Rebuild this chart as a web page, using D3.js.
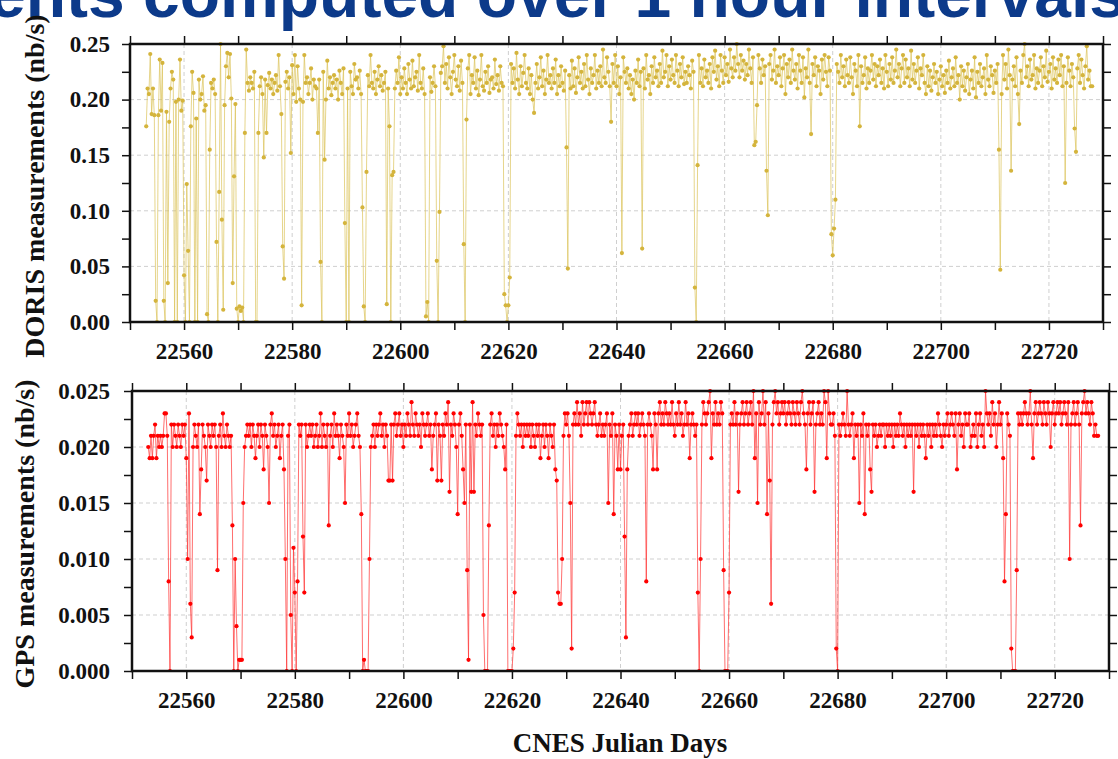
<!DOCTYPE html>
<html>
<head>
<meta charset="utf-8">
<script src="https://cdn.jsdelivr.net/npm/d3@7"></script>
<style>
  body { margin: 0; background: #fff; }
  svg { display: block; }
  .tick text { font-family: "Liberation Serif", "Times New Roman", serif; font-weight: bold; font-size: 23px; fill: #111; }
  .tick line { stroke: #111; stroke-width: 1.5; }
  .label { font-family: "Liberation Serif", "Times New Roman", serif; font-weight: bold; fill: #111; }
</style>
</head>
<body>
<svg id="chart"></svg>
<script>
// sampling of both series: one value every 6 hours, starting at day 22553
var firstDay = 22553
var stepDays = 0.25

var xMajorTicks = [22560, 22580, 22600, 22620, 22640, 22660, 22680, 22700, 22720]
var xMinorTicks = [22550, 22570, 22590, 22610, 22630, 22650, 22670, 22690, 22710, 22730]

var dorisMajorTicks = [0, 0.05, 0.10, 0.15, 0.20, 0.25]
var dorisMinorTicks = [0.025, 0.075, 0.125, 0.175, 0.225]
var gpsMajorTicks = [0, 0.005, 0.010, 0.015, 0.020, 0.025]
var gpsMinorTicks = [0.0025, 0.0075, 0.0125, 0.0175, 0.0225]

// DORIS measurements, in 1e-3 nb/s (5 days per row)
var dorisMilli = [
176,210,205,241, 187,210,186,19, 0,186,236,190, 233,19,0,189, 35,180,210,225,
218,0,198,0, 200,236,190,199, 42,0,124,64, 0,176,225,206, 0,183,0,218,
200,205,221,190, 195,7,0,155, 215,210,218,205, 72,0,117,250, 92,11,195,230,
242,220,241,201, 35,131,196,12, 0,14,10,13, 0,170,245,215, 208,220,215,210,
225,0,0,170, 212,220,205,148, 218,170,213,224, 210,218,205,215, 222,208,240,212,
187,68,39,216, 225,210,220,152, 231,205,240,198, 230,210,200,15, 198,240,215,220,
205,215,228,200, 218,212,210,170, 218,54,0,225, 146,200,235,210, 220,204,215,222,
210,218,200,226, 215,205,228,89, 0,210,0,225, 212,205,232,218, 220,210,226,205,
103,14,0,135, 222,212,240,215, 210,225,205,218, 230,212,222,208, 215,225,16,210,
176,0,132,135, 210,226,215,238, 205,220,210,228, 215,205,232,218, 210,235,212,220,
225,208,240,215, 210,228,205,5, 18,0,220,207, 215,230,212,55, 0,99,224,230,
248,215,232,210, 238,220,205,225, 240,218,212,230, 208,235,215,70, 0,182,228,240,
205,222,215,238, 210,226,204,218, 240,212,208,225, 215,230,206,218, 220,210,236,214,
222,208,230,215, 212,25,15,0, 15,40,232,215, 228,210,242,218, 205,230,212,224,
240,215,210,228, 205,222,200,188, 215,232,210,220, 238,212,226,205, 218,240,215,222,
210,228,215,236, 205,222,212,230, 215,208,226,157, 48,222,210,235, 212,228,206,220,
238,215,225,210, 232,212,240,218, 205,228,215,222, 240,210,226,215, 230,212,245,220,
215,238,225,212, 180,232,215,240, 212,230,205,220, 62,238,225,215, 228,210,222,205,
218,200,226,215, 236,212,225,66, 228,210,240,218, 222,205,230,215, 238,220,226,212,
232,215,244,220, 225,240,212,230, 218,236,222,215, 240,226,212,232, 220,238,214,225,
215,230,222,210, 235,225,31,0, 141,240,215,228, 212,236,220,226, 215,232,210,238,
225,244,218,230, 212,240,226,215, 238,222,232,216, 245,228,220,238, 226,250,232,220,
240,226,235,218, 232,222,245,228, 215,238,159,162, 195,240,228,215, 236,222,230,136,
96,232,240,218, 226,245,215,230, 222,238,212,228, 240,205,232,220, 236,215,245,226,
218,232,210,240, 226,215,238,202, 228,220,245,215, 169,232,222,238, 212,230,226,205,
236,218,240,225, 212,238,226,79, 60,84,110,232, 225,215,240,220, 230,212,236,222,
215,238,220,205, 232,226,212,240, 176,230,215,222, 238,210,228,215, 226,240,218,232,
212,230,222,236, 215,228,210,240, 225,212,232,218, 238,215,226,245, 220,232,212,228,
240,215,236,220, 228,212,244,218, 232,215,226,238, 210,228,222,240, 215,205,230,212,
226,208,220,232, 215,225,205,218, 230,212,222,206, 226,215,235,210, 220,228,212,238,
215,222,200,230, 212,226,208,220, 232,205,218,226, 210,238,202,225, 215,232,212,220,
228,205,240,218, 212,230,222,206, 226,215,232,155, 47,205,240,218, 232,210,245,222,
136,218,230,212, 238,205,178,226, 215,240,250,220, 230,212,236,218, 222,240,210,228,
215,226,238,212, 230,220,244,216, 225,232,210,238, 218,228,215,236, 222,240,212,230,
125,215,238,226, 212,232,220,174, 153,228,240,215, 236,222,210,230, 248,218,226,212,
212
]

// GPS measurements, in 1e-3 nb/s (5 days per row)
var gpsMilli = [
20,19,21,19, 21,22,19,21, 20,21,20,21, 23,23,21,8, 0,22,20,22,
21,20,22,21, 20,22,21,22, 19,10,23,6, 3,20,22,21, 20,22,14,18,
22,21,20,17, 22,21,20,22, 21,22,20,9, 21,22,20,23, 21,20,22,21,
20,21,13,0, 10,4,0,1, 1,1,15,20, 21,22,21,22, 20,22,21,19,
21,22,20,22, 21,18,22,21, 20,15,22,23, 21,22,20,21, 22,19,21,22,
18,10,0,21, 22,5,0,11, 7,0,8,22, 21,22,12,7, 22,20,21,22,
21,22,20,21, 22,20,21,23, 20,22,21,20, 22,13,21,22, 20,23,21,22,
21,19,22,21, 20,15,22,21, 23,21,22,20, 21,22,23,21, 20,14,0,1,
0,0,0,10, 20,21,22,20, 22,21,22,23, 21,22,20,22, 21,17,17,22,
17,22,23,21, 22,23,21,22, 20,22,21,23, 22,21,24,22, 21,23,22,21,
22,20,23,22, 21,22,23,21, 22,18,21,22, 23,17,22,21, 17,22,21,23,
22,24,16,22, 21,23,22,20, 14,22,23,21, 18,15,22,9, 1,22,16,24,
16,22,21,23, 22,21,22,5, 0,0,0,13, 22,23,21,22, 20,22,21,23,
22,21,20,18, 22,0,0,0, 0,2,7,21, 23,22,21,22, 20,22,21,22,
21,22,20,22, 21,20,22,21, 22,19,21,22, 20,22,21,19, 22,21,20,22,
18,17,7,6, 6,10,21,23, 22,23,21,15, 2,22,23,22, 24,22,23,21,
24,22,23,24, 22,24,23,22, 23,24,22,21, 22,23,21,22, 21,22,23,15,
22,21,23,14, 22,21,18,22, 18,21,22,12, 3,18,21,22, 23,21,22,23,
22,23,21,22, 23,22,21,8, 22,23,22,21, 18,23,22,18, 23,24,22,23,
22,24,23,22, 23,22,24,22, 21,23,22,24, 22,23,21,22, 24,22,23,19,
22,23,22,21, 22,7,0,10, 22,24,23,22, 23,24,25,19, 23,22,24,22,
23,22,24,23, 9,0,0,0, 7,22,23,22, 24,22,23,16, 22,23,24,22,
23,24,22,23, 24,22,25,19, 23,15,24,22, 23,25,22,24, 14,23,17,6,
22,24,25,23, 24,22,23,24, 23,24,22,23, 24,23,22,24, 23,22,24,23,
22,24,25,23, 22,18,23,24, 22,23,24,16, 22,23,24,22, 23,22,25,24,
19,25,23,22, 22,23,21,2, 0,22,21,22, 23,22,21,25, 22,21,22,23,
19,22,21,22, 15,22,21,23, 14,22,21,22, 18,16,22,21, 22,20,21,22,
21,22,22,20, 22,21,22,21, 22,20,22,21, 22,21,23,22, 21,22,20,22,
21,22,21,22, 16,22,21,22, 20,22,21,22, 21,19,22,21, 22,20,22,21,
22,21,23,22, 21,20,22,21, 22,23,21,22, 23,22,21,23, 18,22,23,21,
22,20,23,22, 22,23,20,21, 22,21,23,20, 22,23,21,22, 20,25,23,22,
23,21,24,22, 23,20,22,24, 22,23,19,8, 14,23,22,21, 2,0,0,0,
9,23,22,23, 22,23,24,23, 22,23,25,22, 19,23,24,22, 23,24,23,22,
24,23,22,24, 23,20,23,24, 22,23,24,23, 24,22,23,24, 23,22,24,10,
22,23,24,22, 23,24,22,13, 23,24,25,23, 24,23,22,24, 23,21,22,21,
21
]

var screen = {width: 1118, height: 759}
var xDomain = [22550, 22730]

var svg = d3.select("#chart")
    .attr("width", screen.width)
    .attr("height", screen.height)

var makeTranslateString = function(x, y)
{
    return "translate(" + x + "," + y + ")"
}

// cropped slide title above the plots
svg.append("text")
    .text("Measurements computed over 1 hour intervals")
    .attr("x", 1126)
    .attr("y", 17)
    .attr("text-anchor", "end")
    .style("font-family", "'Liberation Sans', Arial, sans-serif")
    .style("font-weight", "bold")
    .style("font-size", "66px")
    .style("fill", "#0c3a8a")

var drawPanel = function(p, id)
{
    var xScale = d3.scaleLinear().domain(xDomain).range([p.left, p.right])
    var yScale = d3.scaleLinear().domain([0, p.yMax]).range([p.bottom, p.top])

    var grid = svg.append("g").attr("class", "grid")
    grid.selectAll("line.gx")
        .data(xMajorTicks)
        .enter()
        .append("line")
        .attr("x1", function(d) { return xScale(d) })
        .attr("x2", function(d) { return xScale(d) })
        .attr("y1", p.top)
        .attr("y2", p.bottom)
    grid.selectAll("line.gy")
        .data(p.majors.slice(1, -1))
        .enter()
        .append("line")
        .attr("x1", p.left)
        .attr("x2", p.right)
        .attr("y1", function(d) { return yScale(d) })
        .attr("y2", function(d) { return yScale(d) })
    grid.selectAll("line")
        .attr("stroke", "#cfcfcf")
        .attr("stroke-width", 1)
        .attr("stroke-dasharray", "4,3")

    svg.append("clipPath")
        .attr("id", "clip" + id)
        .append("rect")
        .attr("x", p.left)
        .attr("y", p.top - 3)
        .attr("width", p.right - p.left)
        .attr("height", p.bottom - p.top + 3)

    var points = p.values.map(function(v, i)
    {
        return {day: firstDay + i * stepDays, value: v / 1000}
    })

    var line = d3.line()
        .x(function(d) { return xScale(d.day) })
        .y(function(d) { return yScale(d.value) })

    var plot = svg.append("g").attr("clip-path", "url(#clip" + id + ")")
    plot.append("path")
        .datum(points)
        .attr("d", line)
        .attr("fill", "none")
        .attr("stroke", p.lineColor)
        .attr("stroke-width", 1)
        .attr("stroke-opacity", 0.7)
    plot.selectAll("circle")
        .data(points)
        .enter()
        .append("circle")
        .attr("cx", function(d) { return xScale(d.day) })
        .attr("cy", function(d) { return yScale(d.value) })
        .attr("r", 2.1)
        .attr("fill", p.dotColor)

    var allX = xMajorTicks.concat(xMinorTicks).sort(d3.ascending)
    var allY = p.majors.concat(p.minors).sort(d3.ascending)
    var yFmt = d3.format(p.fmt)

    svg.append("g")
        .attr("transform", makeTranslateString(0, p.bottom))
        .call(d3.axisBottom(xScale).tickValues(allX).tickSize(8).tickPadding(13)
            .tickFormat(function(d) { return xMajorTicks.indexOf(d) >= 0 ? d : "" }))
    svg.append("g")
        .attr("transform", makeTranslateString(0, p.top))
        .call(d3.axisTop(xScale).tickValues(allX).tickSize(8).tickFormat(""))
    svg.append("g")
        .attr("transform", makeTranslateString(p.left, 0))
        .call(d3.axisLeft(yScale).tickValues(allY).tickSize(8).tickPadding(p.left - 118)
            .tickFormat(function(d) { return p.majors.indexOf(d) >= 0 ? yFmt(d) : "" }))
    svg.append("g")
        .attr("transform", makeTranslateString(p.right, 0))
        .call(d3.axisRight(yScale).tickValues(allY).tickSize(8).tickFormat(""))
    svg.selectAll(".domain").remove()

    svg.append("rect")
        .attr("x", p.left)
        .attr("y", p.top)
        .attr("width", p.right - p.left)
        .attr("height", p.bottom - p.top)
        .attr("fill", "none")
        .attr("stroke", "#111")
        .attr("stroke-width", 2.5)

    svg.append("text")
        .attr("class", "label")
        .attr("transform", makeTranslateString(p.titleX, (p.top + p.bottom) / 2 + 3) + " rotate(-90)")
        .attr("text-anchor", "middle")
        .style("font-size", "28px")
        .text(p.title)
}

drawPanel({
    values: dorisMilli, left: 130, right: 1103, top: 44, bottom: 322,
    yMax: 0.25, majors: dorisMajorTicks, minors: dorisMinorTicks, fmt: ".2f",
    dotColor: "#d4b43c", lineColor: "#dcc35a",
    title: "DORIS measurements (nb/s)", titleX: 44
}, 1)

drawPanel({
    values: gpsMilli, left: 132, right: 1109, top: 391, bottom: 671,
    yMax: 0.025, majors: gpsMajorTicks, minors: gpsMinorTicks, fmt: ".3f",
    dotColor: "#ff0000", lineColor: "#ff3030",
    title: "GPS measurements (nb/s)", titleX: 34
}, 2)

svg.append("text")
    .attr("class", "label")
    .attr("x", 620)
    .attr("y", 752)
    .attr("text-anchor", "middle")
    .style("font-size", "27px")
    .text("CNES Julian Days")
</script>
</body>
</html>
